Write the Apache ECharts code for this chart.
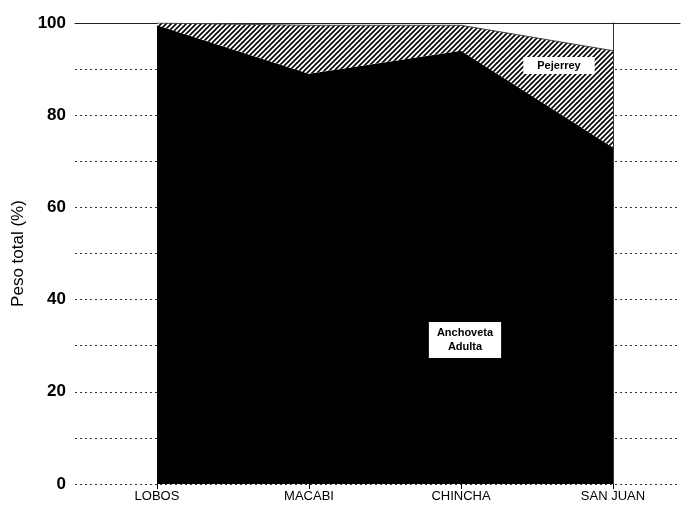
<!DOCTYPE html>
<html>
<head>
<meta charset="utf-8">
<title>Peso total</title>
<script src="https://cdn.jsdelivr.net/npm/echarts@6/dist/echarts.min.js"></script>
<style>
  html, body { margin: 0; padding: 0; background: #fff; }
  #chart { width: 688px; height: 505px; }
</style>
</head>
<body>
<div id="chart"></div>
<script>
// datos
var sitios = ['LOBOS', 'MACABI', 'CHINCHA', 'SAN JUAN'];
var anchovetaAdulta = [99.5, 89, 94, 73];
var pejerrey = [0.5, 10.5, 5.5, 21];
var yTicks = [0, 20, 40, 60, 80, 100];

// trama rayada para pejerrey
var hatch = document.createElement('canvas');
hatch.width = 5; hatch.height = 5;
var hc = hatch.getContext('2d');
hc.fillStyle = '#fff';
hc.fillRect(0, 0, 5, 5);
hc.strokeStyle = '#000';
hc.lineWidth = 1.6;
hc.beginPath();
hc.moveTo(-1, 6); hc.lineTo(6, -1);
hc.moveTo(-1, 1); hc.lineTo(1, -1);
hc.moveTo(4, 6); hc.lineTo(6, 4);
hc.stroke();

var chart = echarts.init(document.getElementById('chart'));
chart.setOption({
    animation: false,
    backgroundColor: '#fff',
    textStyle: { fontFamily: 'Liberation Sans, Arial, sans-serif' },
    grid: [
        { left: 75, right: 8, top: 23, bottom: 21 },
        { left: 157, right: 75, top: 23, bottom: 21 }
    ],
    xAxis: [
        {
            gridIndex: 0, type: 'value', position: 'top', min: 0, max: 1,
            axisLine: { show: true, onZero: false, lineStyle: { color: '#222', width: 1.2 } },
            axisTick: { show: false }, axisLabel: { show: false }, splitLine: { show: false }
        },
        {
            gridIndex: 1, type: 'category', data: sitios, boundaryGap: false,
            axisLine: { show: false, onZero: false },
            axisTick: { show: true, length: 5, lineStyle: { color: '#000' } },
            axisLabel: { color: '#000', fontSize: 13, margin: 6 },
            splitLine: { show: false }
        }
    ],
    yAxis: [
        {
            gridIndex: 0, type: 'value', min: 0, max: 100, interval: 10,
            name: 'Peso total (%)', nameLocation: 'middle', nameGap: 48,
            nameTextStyle: { color: '#000', fontSize: 17 },
            axisLine: { show: false }, axisTick: { show: false },
            axisLabel: {
                color: '#000', fontSize: 17, fontWeight: 'bold', margin: 9,
                formatter: function (v) { return yTicks.indexOf(v) >= 0 ? v : ''; }
            },
            splitLine: { show: true, lineStyle: { color: '#333', type: [2, 3], width: 1 } }
        },
        {
            gridIndex: 1, type: 'value', min: 0, max: 100, position: 'right',
            axisLine: { show: true, lineStyle: { color: '#333', width: 1 } },
            axisTick: { show: false }, axisLabel: { show: false }, splitLine: { show: false }
        }
    ],
    series: [
        {
            name: 'Anchoveta Adulta', type: 'line', xAxisIndex: 1, yAxisIndex: 1,
            stack: 'total', symbol: 'none', data: anchovetaAdulta,
            lineStyle: { width: 0 }, areaStyle: { color: '#000', opacity: 1 }
        },
        {
            name: 'Pejerrey', type: 'line', xAxisIndex: 1, yAxisIndex: 1,
            stack: 'total', symbol: 'none', data: pejerrey,
            lineStyle: { width: 1, color: '#444' },
            areaStyle: { color: { image: hatch, repeat: 'repeat' }, opacity: 1 }
        }
    ],
    graphic: [
        {
            type: 'text', x: 559, y: 57, z: 100,
            style: {
                text: 'Pejerrey', fill: '#000', backgroundColor: '#fff',
                font: 'bold 11px Liberation Sans, Arial, sans-serif', align: 'center',
                padding: [3, 14, 3, 14]
            }
        },
        {
            type: 'text', x: 465, y: 322, z: 100,
            style: {
                text: 'Anchoveta\nAdulta', fill: '#000', backgroundColor: '#fff',
                font: 'bold 11px Liberation Sans, Arial, sans-serif', align: 'center',
                lineHeight: 14, padding: [4, 8, 4, 8]
            }
        }
    ]
});
</script>
</body>
</html>
